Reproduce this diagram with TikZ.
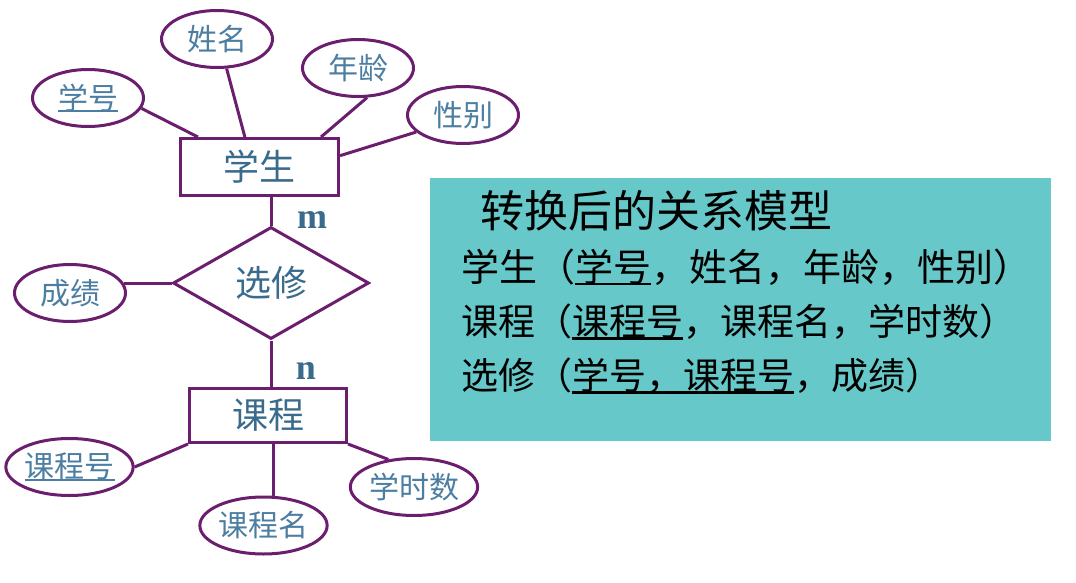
\documentclass[tikz,border=0pt]{standalone}
\usepackage{fontspec}
\setmainfont{Liberation Serif}
\newfontfamily\cjk{Noto Sans CJK SC}
\usetikzlibrary{shapes.geometric}
\definecolor{erline}{HTML}{6B1E6E}
\definecolor{ertext}{HTML}{3A6A8C}
\definecolor{attrtext}{HTML}{4C7EA2}
\definecolor{modelbg}{HTML}{66C8C8}
\newcommand\erul[1]{\setbox0=\hbox{#1}\rlap{\rule[-0.1em]{\wd0}{0.06em}}\box0}
\tikzset{
  entity/.style={draw=erline, line width=3pt, rectangle, minimum width=158pt, minimum height=57pt, inner sep=0pt, text=ertext, font=\cjk\fontsize{36}{40}\selectfont},
  relation/.style={draw=erline, line width=3pt, diamond, minimum width=196pt, minimum height=112pt, inner sep=0pt, text=ertext, font=\cjk\fontsize{36}{40}\selectfont},
  attr/.style={draw=erline, line width=3pt, ellipse, minimum width=111pt, minimum height=57pt, inner sep=0pt, text=attrtext, font=\cjk\fontsize{30}{34}\selectfont},
  conn/.style={draw=erline, line width=3pt},
  card/.style={text=ertext, font=\bfseries\fontsize{36}{40}\selectfont, inner sep=0pt},
  modeltext/.style={anchor=west, inner sep=0pt, text=black, font=\cjk\fontsize{38}{42}\selectfont}
}
\begin{document}
\begin{tikzpicture}[x=1pt,y=-1pt]
\useasboundingbox (0,0) rectangle (1076,583);
% model box
\node[fill=modelbg, minimum width=621pt, minimum height=263pt, inner sep=0pt, anchor=north west] (model) at (430,178) {};
\node[modeltext, font=\cjk\fontsize{44}{48}\selectfont] (title) at (480,211) {转换后的关系模型};
\node[modeltext] (l1) at (461,267) {学生（\erul{学号} ，姓名，年龄，性别）};
\node[modeltext, font=\cjk\fontsize{37}{42}\selectfont] (l2) at (461,322) {课程（\erul{课程号}，课程名，学时数）};
\node[modeltext, font=\cjk\fontsize{37}{42}\selectfont] (l3) at (461,376) {选修（\erul{学号，课程号}，成绩）};
% ER diagram
\node[entity] (stu) at (259.5,167) {学生};
\node[attr] (xh) at (88,98) {\erul{学号}};
\node[attr] (xm) at (217,39) {姓名};
\node[attr] (nl) at (358,68) {年龄};
\node[attr] (xb) at (463,115) {性别};
\node[relation] (xx) at (271,283) {选修};
\node[attr] (cj) at (70,293) {成绩};
\node[entity, minimum width=157pt, minimum height=54pt] (kc) at (268,415.5) {课程};
\node[attr] (kch) at (69.5,467) {\erul{课程号}};
\node[attr] (kcm) at (263.5,525.5) {课程名};
\node[attr] (xss) at (414,487) {学时数};
\node[card] (cardm) at (312,220) {m};
\node[card] (cardn) at (306,371) {n};
% connectors
\draw[conn] (xh.349) -- (stu.154);
\draw[conn] (xm.288) -- (stu.116);
\draw[conn] (nl.287) -- (stu.26);
\draw[conn] (xb.200) -- (stu.8.5);
\draw[conn] (stu.south -| xx.north) -- (xx.north);
\draw[conn] (cj.10) -- (cj.10 -| xx.west);
\draw[conn] (xx.south) -- (xx.south |- kc.north);
\draw[conn] (kch.east) -- (kc.south west);
\draw[conn] (kcm.72) -- (kcm.72 |- kc.south);
\draw[conn] (xss.133) -- (kc.south east);
\end{tikzpicture}
\end{document}
